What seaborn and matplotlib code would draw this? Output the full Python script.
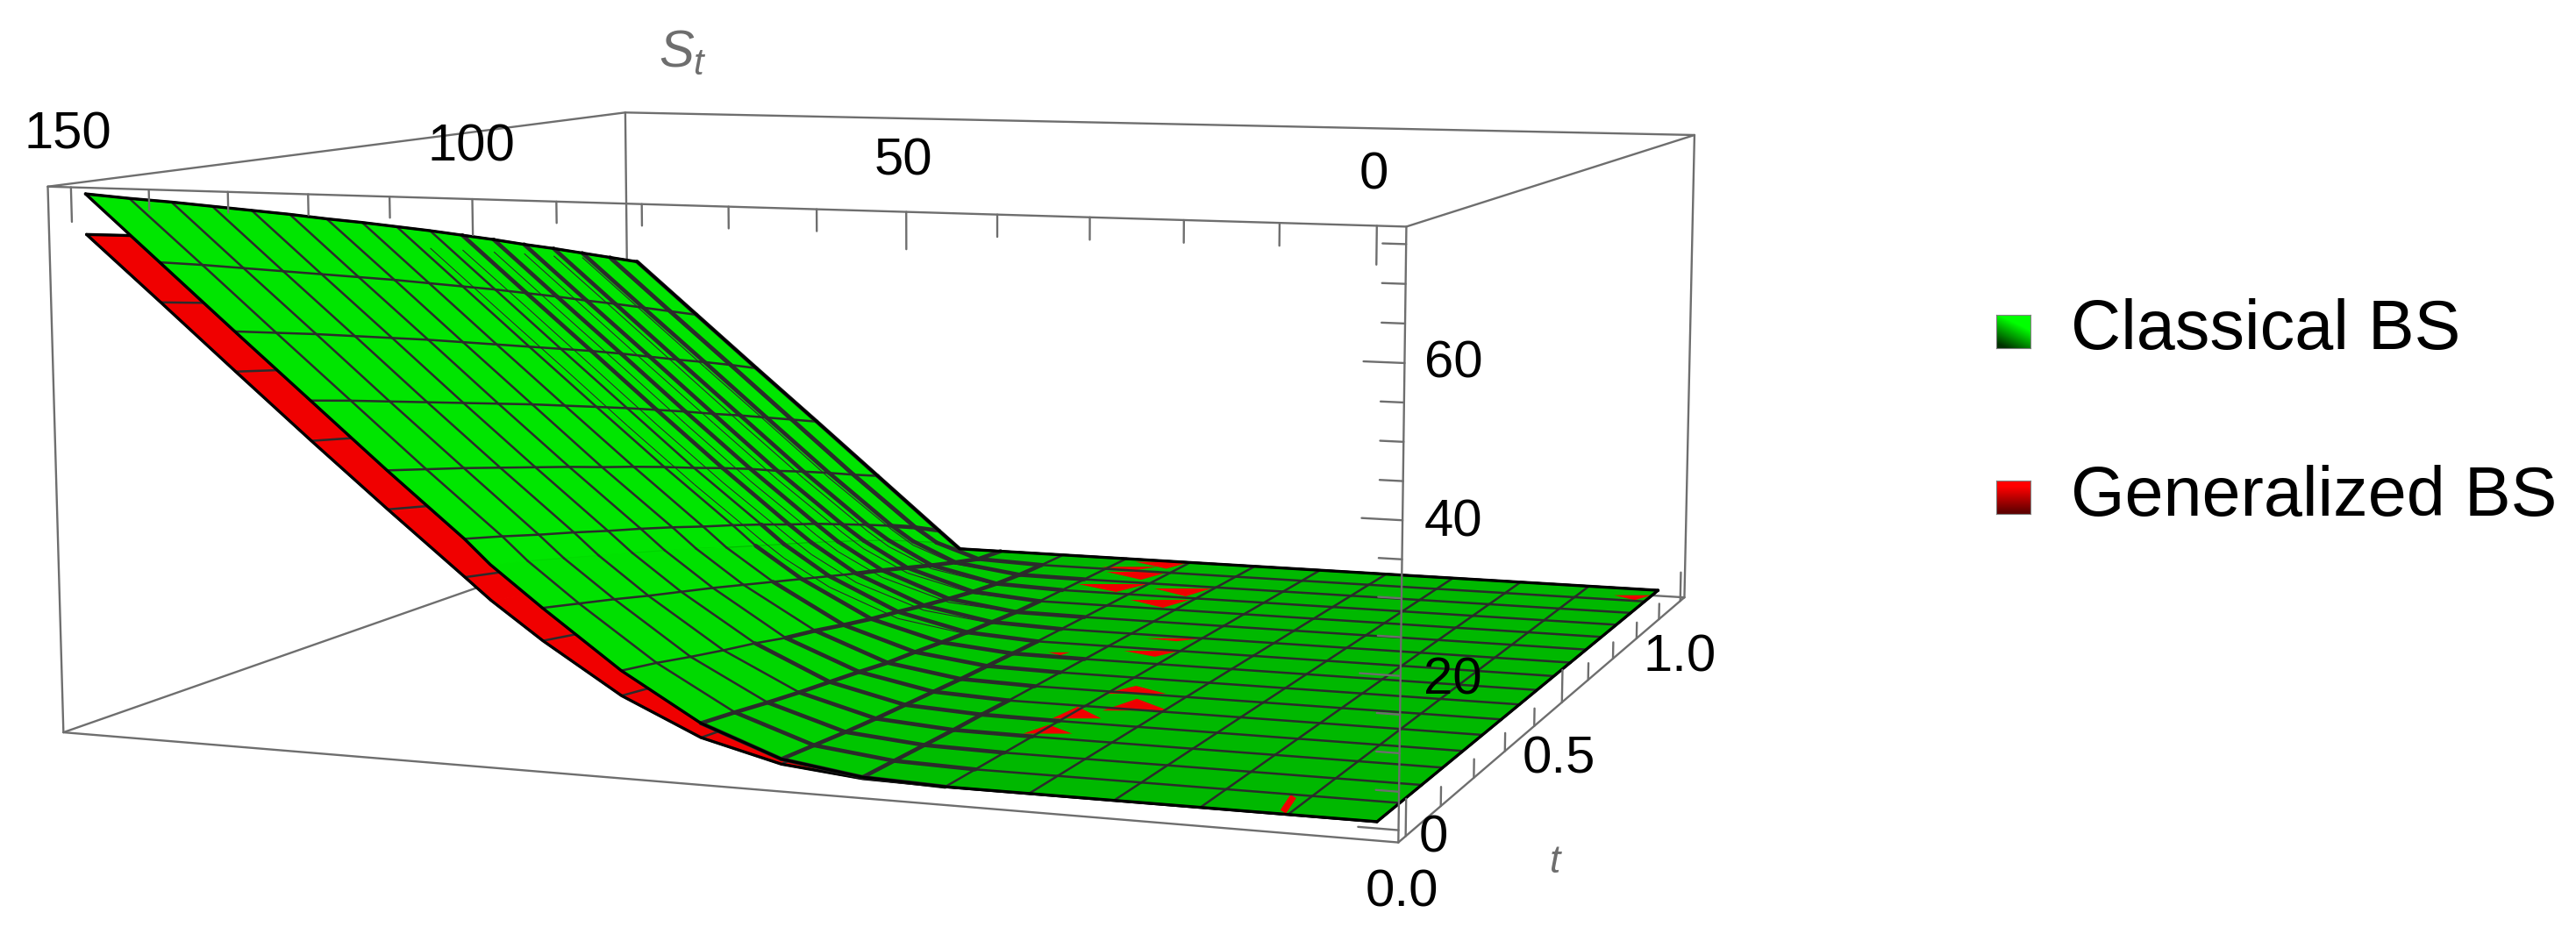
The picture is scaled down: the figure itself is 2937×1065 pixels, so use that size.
import numpy as np
import seaborn as sns
import matplotlib
matplotlib.use("Agg")
import matplotlib.pyplot as plt
from mpl_toolkits.mplot3d.art3d import Line3DCollection

W, H = 2937, 1065

# grid of the surfaces (Mathematica mesh, 16 cells each way) + S=100 for the strike kink
S_nodes = [0, 9.375, 18.75, 28.125, 37.5, 46.875, 56.25, 65.625, 75, 84.375, 93.75, 100, 103.125, 112.5, 121.875, 131.25, 140.625, 150]
t_nodes = [0, 0.0625, 0.125, 0.1875, 0.25, 0.3125, 0.375, 0.4375, 0.5, 0.5625, 0.625, 0.6875, 0.75, 0.8125, 0.875, 0.9375, 1]
kink_col = 11

# option value, one row per t, columns S_nodes[5:]; below that it lies on the floor
classical_bs = [
    [0.0, 0.4, 2.0, 6.1, 12.6, 20.6, 26.2, 29.6, 38.6, 47.9, 57.2, 66.6, 76.0],
    [0.0, 0.3, 1.6, 5.4, 11.6, 19.3, 24.9, 28.2, 37.2, 46.5, 55.8, 65.2, 74.5],
    [0.0, 0.2, 1.2, 4.6, 10.4, 18.0, 23.5, 26.7, 35.8, 45.0, 54.4, 63.7, 73.1],
    [0.0, 0.1, 0.9, 3.9, 9.3, 16.6, 22.1, 25.3, 34.3, 43.5, 52.9, 62.2, 71.6],
    [0.0, 0.1, 0.7, 3.3, 8.3, 15.3, 20.7, 23.8, 32.8, 42.0, 51.4, 60.7, 70.1],
    [0.0, 0.0, 0.5, 2.7, 7.1, 14.0, 19.3, 22.4, 31.3, 40.5, 49.9, 59.2, 68.6],
    [0.0, 0.0, 0.3, 2.0, 6.2, 12.6, 17.8, 20.9, 29.7, 39.0, 48.3, 57.7, 67.0],
    [0.0, 0.0, 0.2, 1.6, 5.1, 11.2, 16.2, 19.3, 28.2, 37.4, 46.7, 56.1, 65.5],
    [0.0, 0.0, 0.1, 1.1, 4.1, 9.8, 14.7, 17.8, 26.6, 35.8, 45.1, 54.5, 63.9],
    [0.0, 0.0, 0.0, 0.7, 3.3, 8.4, 13.2, 16.2, 24.9, 34.2, 43.5, 52.9, 62.3],
    [0.0, 0.0, 0.0, 0.4, 2.4, 7.0, 11.7, 14.5, 23.3, 32.5, 41.9, 51.2, 60.6],
    [0.0, 0.0, 0.0, 0.1, 1.6, 5.7, 10.1, 12.9, 21.6, 30.8, 40.2, 49.5, 58.9],
    [0.0, 0.0, 0.0, 0.0, 0.9, 4.3, 8.5, 11.1, 19.7, 29.0, 38.4, 47.7, 57.1],
    [0.0, 0.0, 0.0, 0.0, 0.4, 2.9, 6.8, 9.3, 18.0, 27.3, 36.6, 46.0, 55.4],
    [0.0, 0.0, 0.0, 0.0, 0.1, 1.6, 4.9, 7.4, 16.2, 25.5, 34.9, 44.2, 53.6],
    [0.0, 0.0, 0.0, 0.0, 0.0, 0.4, 2.9, 5.4, 14.3, 23.7, 33.1, 42.4, 51.8],
    [0.0, 0.0, 0.0, 0.0, 0.0, 0.0, 0.0, 3.1, 12.5, 21.9, 31.2, 40.6, 50.0],
]
generalized_bs = [
    [0.0, 0.2, 1.3, 4.1, 9.1, 16.0, 21.2, 24.2, 33.1, 42.2, 51.5, 60.9, 70.2],
    [0.0, 0.2, 1.0, 3.5, 8.3, 15.0, 20.0, 23.1, 31.9, 41.1, 50.4, 59.7, 69.1],
    [0.0, 0.1, 0.8, 3.0, 7.4, 14.0, 19.0, 22.0, 30.8, 39.9, 49.2, 58.6, 67.9],
    [0.0, 0.1, 0.6, 2.5, 6.6, 13.0, 17.9, 20.9, 29.6, 38.8, 48.1, 57.4, 66.8],
    [0.0, 0.0, 0.4, 2.0, 5.8, 11.9, 16.8, 19.7, 28.4, 37.6, 46.9, 56.2, 65.6],
    [0.0, 0.0, 0.3, 1.6, 5.0, 10.9, 15.6, 18.5, 27.2, 36.4, 45.7, 55.0, 64.4],
    [0.0, 0.0, 0.2, 1.2, 4.3, 9.8, 14.5, 17.3, 26.0, 35.1, 44.4, 53.8, 63.2],
    [0.0, 0.0, 0.1, 0.9, 3.5, 8.7, 13.2, 16.1, 24.8, 33.9, 43.2, 52.6, 61.9],
    [0.0, 0.0, 0.1, 0.6, 2.8, 7.7, 12.2, 14.9, 23.5, 32.6, 42.0, 51.3, 60.7],
    [0.0, 0.0, 0.0, 0.4, 2.2, 6.6, 10.9, 13.6, 22.2, 31.3, 40.7, 50.0, 59.4],
    [0.0, 0.0, 0.0, 0.2, 1.6, 5.5, 9.7, 12.4, 20.9, 30.0, 39.4, 48.8, 58.1],
    [0.0, 0.0, 0.0, 0.1, 1.0, 4.5, 8.4, 11.0, 19.5, 28.7, 38.1, 47.4, 56.8],
    [0.0, 0.0, 0.0, 0.0, 0.6, 3.4, 7.1, 9.7, 18.2, 27.4, 36.7, 46.1, 55.5],
    [0.0, 0.0, 0.0, 0.0, 0.2, 2.3, 5.7, 8.2, 16.8, 26.0, 35.4, 44.8, 54.1],
    [0.0, 0.0, 0.0, 0.0, 0.1, 1.3, 4.2, 6.7, 15.3, 24.7, 34.0, 43.4, 52.8],
    [0.0, 0.0, 0.0, 0.0, 0.0, 0.4, 2.7, 5.0, 13.9, 23.3, 32.7, 42.0, 51.4],
    [0.0, 0.0, 0.0, 0.0, 0.0, 0.0, 0.0, 3.1, 12.5, 21.9, 31.2, 40.6, 50.0],
]

# red patches where the generalized surface pokes through on the floor
speck_t = [0.971, 0.941, 0.904, 0.833, 0.831, 0.766, 0.603, 0.537, 0.510, 0.384, 0.324, 0.279, 0.212, 0.945]
speck_S = [68.3, 71.8, 68.7, 68.9, 59.0, 59.1, 49.6, 49.4, 60.1, 44.3, 41.4, 46.3, 46.3, 1.9]
sliver_t = [0.05, 0.0]
sliver_S = [10.9, 9.9]

S_ticks = [0, 50, 100, 150]
z_ticks = [0, 20, 40, 60]
t_ticks = ["0.0", "0.5", "1.0"]
legend_names = ["Classical BS", "Generalized BS"]

sns.set_theme(style="white")
plt.rcParams["font.family"] = ["Liberation Sans", "DejaVu Sans"]
plt.rcParams["mathtext.fontset"] = "custom"
plt.rcParams["mathtext.it"] = "Liberation Sans:italic"
plt.rcParams["mathtext.rm"] = "Liberation Sans"

fig = plt.figure(figsize=(W / 100, H / 100), dpi=100, facecolor="white")
ax = fig.add_axes([0, 0, 1, 1], projection="3d", computed_zorder=False)
ax.set_axis_off()
ax.patch.set_alpha(0)

tlim, Slim, zlim = (-0.02, 1.02), (-3, 153), (-1.6, 77.2)

T, S = np.meshgrid(t_nodes, S_nodes, indexing="ij")
Zg = np.hstack([np.zeros((17, 5)), np.array(classical_bs)])
Zr = np.hstack([np.zeros((17, 5)), np.array(generalized_bs)])
ncol = len(S_nodes)

GRAY = "#6e6e6e"
MESH = "#2b2b2b"


def shaded(Z, flat, steep):
    # brighter where the sheet is steep, dull on the floor
    slope = np.gradient(Z, S_nodes, axis=1)
    k = np.clip(slope, 0, 1)[..., None] ** 0.5
    rgb = np.array(flat) * (1 - k) + np.array(steep) * k
    return np.dstack([rgb, np.ones(Z.shape)])


def edge3d(a, b, z_order=5, c=GRAY, lw=1.7):
    ax.plot([a[0], b[0]], [a[1], b[1]], [a[2], b[2]], color=c, lw=lw, zorder=z_order, solid_capstyle="round")


def sheet(Z, flat, steep, z_order):
    surf = ax.plot_surface(T, S, Z, rstride=1, cstride=1, facecolors=shaded(Z, flat, steep),
                           linewidth=0.8, shade=False, zorder=z_order)
    surf.set_edgecolors("face")


def mesh(Z, z_order, thick=False):
    segs, widths = [], []
    # lines of constant t
    for j in range(17):
        for i in range(ncol - 1):
            segs.append([(T[j, i], S[j, i], Z[j, i]), (T[j, i + 1], S[j, i + 1], Z[j, i + 1])])
            gap = max(Zg[j, i] - Zr[j, i], Zg[j, i + 1] - Zr[j, i + 1])
            top = max(Zg[j, i], Zg[j, i + 1])
            widths.append(3.3 if thick and gap < 2.6 and top > 0.05 else 1.8)
    # lines of constant S, none on the extra kink column
    for i in range(ncol):
        if i == kink_col:
            continue
        for j in range(16):
            segs.append([(T[j, i], S[j, i], Z[j, i]), (T[j + 1, i], S[j + 1, i], Z[j + 1, i])])
            top = max(Zg[j, i], Zg[j + 1, i])
            widths.append(3.3 if thick and 0.05 < top < 8 else 1.8)
    ax.add_collection3d(Line3DCollection(segs, colors=MESH, linewidths=widths, zorder=z_order, capstyle="round"))


# box, back part first
t0, t1 = tlim
s0, s1 = Slim
z0, z1 = zlim
edge3d((t1, s1, z1), (t1, s1, z0), 1)
edge3d((t0, s1, z0), (t1, s1, z0), 1)
edge3d((t1, s1, z0), (t1, s0, z0), 1)
edge3d((t0, s1, z0), (t0, s0, z0), 1)
edge3d((t0, s1, z1), (t0, s1, z0))
edge3d((t0, s1, z1), (t1, s1, z1))
edge3d((t1, s1, z1), (t1, s0, z1))
edge3d((t0, s1, z1), (t0, s0, z1))
edge3d((t0, s0, z1), (t1, s0, z1))
edge3d((t1, s0, z1), (t1, s0, z0))
edge3d((t0, s0, z0), (t1, s0, z0))
edge3d((t0, s0, z1), (t0, s0, z0), 6)

# tick marks
for val in range(0, 151, 10):
    edge3d((t0, val, z1), (t0, val, z1 - (4.9 if val % 50 == 0 else 2.9)))
for val in range(0, 76, 5):
    edge3d((t0, s0, val), (t0, s0 + (4.2 if val % 20 == 0 else 2.4), val), 6)
for val in np.arange(0, 1.01, 0.1):
    major = abs(val * 2 - round(val * 2)) < 1e-6
    edge3d((val, s0, z0), (val, s0, z0 + (4.9 if major else 2.6)))

sheet(Zr, (0.94, 0, 0), (0.94, 0, 0), 2)
mesh(Zr, 2.05)
ax.plot([0] * ncol, S_nodes, Zr[0], color="black", lw=2.4, zorder=2.1)
ax.plot(t_nodes, [150] * 17, Zr[:, -1], color="black", lw=2.4, zorder=2.1)

sheet(Zg, (0, 0.72, 0), (0, 0.9, 0), 3)

# flat red patches on the floor
speck_w = [57, 57, 64, 70, 58, 60, 57, 57, 22, 64, 67, 50, 50, 38]
speck_h = [7, 4, 8, 8, 8, 8, 3, 6, 3, 8, 12, 12, 9, 5]
speck_up = [0, 0, 0, 0, 0, 0, 0, 0, 0, 1, 1, 1, 1, 0]
for st, sS, w, h, up in zip(speck_t, speck_S, speck_w, speck_h, speck_up):
    r = h / w
    verts = [(-1, r), (1, r), (0.1, -r)] if not up else [(-1, -r), (1, -r), (0.05, r)]
    ax.scatter([st], [sS], [0.3], marker=verts, s=(1.12 * w * 0.72) ** 2, color="#f00000", linewidths=0,
               depthshade=False, zorder=3.2)
ax.plot(sliver_t, sliver_S, [0.3, 0.3], color="#f00000", lw=5.5, zorder=3.2, solid_capstyle="butt")

mesh(Zg, 3.5, thick=True)

# thin strands of the other mesh showing through near the bend
strands = []
for j in range(9, 17):
    for i in range(ncol - 1):
        gap = max(Zg[j, i] - Zr[j, i], Zg[j, i + 1] - Zr[j, i + 1])
        if 0.3 < gap < 4 and max(Zg[j, i], Zg[j, i + 1]) > 0.05:
            strands.append([(T[j, i], S[j, i], Zr[j, i]), (T[j, i + 1], S[j, i + 1], Zr[j, i + 1])])
ax.add_collection3d(Line3DCollection(strands, colors=MESH, linewidths=0.8, zorder=3.6))

# black outline of the green sheet
ax.plot([0] * ncol, S_nodes, Zg[0], color="black", lw=2.4, zorder=4)
ax.plot([1] * ncol, S_nodes, Zg[16], color="black", lw=2.4, zorder=4)
ax.plot(t_nodes, [150] * 17, Zg[:, -1], color="black", lw=2.4, zorder=4)
ax.plot(t_nodes, [0] * 17, Zg[:, 0], color="black", lw=2.4, zorder=4)

ax.set_xlim(*tlim)
ax.set_ylim(*Slim)
ax.set_zlim(*zlim)
ax.set_box_aspect((0.9781, 1, 0.3987))
ax.view_init(elev=7.3696, azim=200.7083, roll=0.074)
ax.set_proj_type("persp", focal_length=0.4333)

# put the square 3d axes so that the camera lands where it should
scale, tx, ty = 11018.1, 1073.2, 468.5
vx0, vx1 = ax.viewLim.x0, ax.viewLim.x1
vy0, vy1 = ax.viewLim.y0, ax.viewLim.y1
ax.set_position([(tx + scale * vx0) / W, 1 - (ty - scale * vy0) / H, scale * (vx1 - vx0) / W, scale * (vy1 - vy0) / H])


def put(x, y, s, size=43, ha="center", **kw):
    # y is the baseline in pixels from the top
    fig.text(x / W, 1 - y / H, s, fontsize=size, ha=ha, va="baseline", **kw)


for lab, (x, y) in zip(S_ticks[::-1], [(77, 170), (537, 184), (1030, 200), (1566, 215)]):
    put(x, y, str(lab), color="black")
for lab, (x, y) in zip(z_ticks, [(1634, 971), (1656, 792), (1657, 612), (1657, 430)]):
    put(x, y, str(lab), color="black")
for lab, (x, y) in zip(t_ticks, [(1598, 1034), (1777, 881), (1915, 765)]):
    put(x, y, lab, color="black")
put(751, 76, r"$S_t$", ha="left", color=GRAY)
put(1774, 995, r"$t$", size=32, color=GRAY)

# legend: shaded swatch plus name
swatch_cmaps = [sns.blend_palette(["#003000", "#00ff00"], as_cmap=True),
                sns.blend_palette(["#600000", "#ff0000"], as_cmap=True)]
yy, xx = np.mgrid[0:1:40j, 0:1:40j]
swatch_vals = [np.clip(0.55 * xx + 1.1 * yy - 0.15, 0, 1), np.clip(1.3 * yy - 0.05, 0, 1)]
for name, cmap, vals, top, base in zip(legend_names, swatch_cmaps, swatch_vals, [359, 548], [398, 588]):
    sw = fig.add_axes([2276 / W, 1 - (top + 38) / H, 39 / W, 38 / H])
    sw.imshow(vals, cmap=cmap, origin="lower", aspect="auto", vmin=0, vmax=1)
    sw.set_xticks([])
    sw.set_yticks([])
    for sp in sw.spines.values():
        sp.set_edgecolor("#808080")
        sp.set_linewidth(0.8)
    fig.text(2361 / W, 1 - base / H, name, fontsize=57, ha="left", va="baseline", color="black")

fig.savefig("out.png", dpi=100, facecolor="white")
